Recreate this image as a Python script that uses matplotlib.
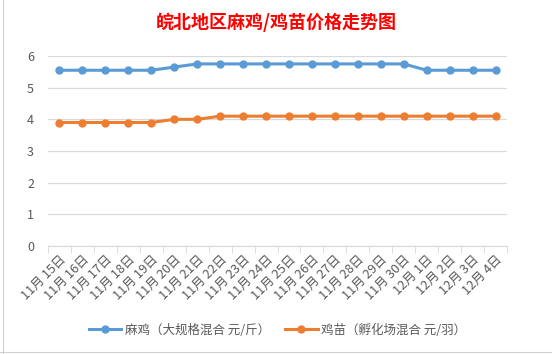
import matplotlib
matplotlib.use("Agg")
import matplotlib.pyplot as plt
import numpy as np

plt.rcParams['font.family'] = ['Noto Sans CJK SC', 'DejaVu Sans']

dates = ["11月 15日", "11月 16日", "11月 17日", "11月 18日", "11月 19日", "11月 20日",
         "11月 21日", "11月 22日", "11月 23日", "11月 24日", "11月 25日", "11月 26日",
         "11月 27日", "11月 28日", "11月 29日", "11月 30日", "12月 1日", "12月 2日",
         "12月 3日", "12月 4日"]
maji = [5.55, 5.55, 5.55, 5.55, 5.55, 5.65, 5.75, 5.75, 5.75, 5.75, 5.75, 5.75,
        5.75, 5.75, 5.75, 5.75, 5.55, 5.55, 5.55, 5.55]
jimiao = [3.9, 3.9, 3.9, 3.9, 3.9, 4.0, 4.0, 4.1, 4.1, 4.1, 4.1, 4.1,
          4.1, 4.1, 4.1, 4.1, 4.1, 4.1, 4.1, 4.1]
series_names = ["麻鸡（大规格混合 元/斤）", "鸡苗（孵化场混合 元/羽）"]
title = "皖北地区麻鸡/鸡苗价格走势图"

fig = plt.figure(figsize=(5.52, 3.54), dpi=100)
ax = fig.add_axes([48 / 552, 1 - 246 / 354, (507 - 48) / 552, (246 - 56) / 354])

x = np.arange(len(dates))
ax.plot(x, maji, color="#5B9BD5", lw=2.2, marker="o", ms=5, label=series_names[0])
ax.plot(x, jimiao, color="#ED7D31", lw=2.2, marker="o", ms=5, label=series_names[1])

ax.set_xlim(-0.5, len(dates) - 0.5)
ax.set_ylim(0, 6)
ax.set_yticks(range(7))
ax.yaxis.grid(True, color="#D9D9D9", lw=0.9)
ax.set_axisbelow(True)
for s in ["top", "right", "left"]:
    ax.spines[s].set_visible(False)
ax.spines["bottom"].set_color("#D9D9D9")
ax.tick_params(axis="y", length=0, colors="#595959", labelsize=9, pad=10)

ax.set_xticks(x)
ax.set_xticklabels(dates, rotation=45, ha="right", rotation_mode="anchor",
                   fontsize=9.2, color="#595959")
ax.tick_params(axis="x", length=0, pad=5)
ax.set_xticks(np.arange(-0.5, len(dates)), minor=True)
ax.tick_params(axis="x", which="minor", length=5, color="#D9D9D9")

fig.text(0.5, 1 - 22 / 354, title, ha="center", va="center", color="red",
         fontsize=13, fontweight="bold")

ax.legend(loc="center", bbox_to_anchor=(0.5, (246 - 330) / 190), ncol=2, frameon=False,
          fontsize=9, labelcolor="#595959", handlelength=2.6, columnspacing=1.2,
          handletextpad=0.3)

# spreadsheet cell border lines
fig.add_artist(plt.Line2D([3 / 552, 3 / 552], [0, 1], color="#D0D0D0", lw=0.8))
fig.add_artist(plt.Line2D([0, 1], [1 - 352 / 354] * 2, color="#D0D0D0", lw=0.8))

fig.savefig("out.png", dpi=100, facecolor="white")
